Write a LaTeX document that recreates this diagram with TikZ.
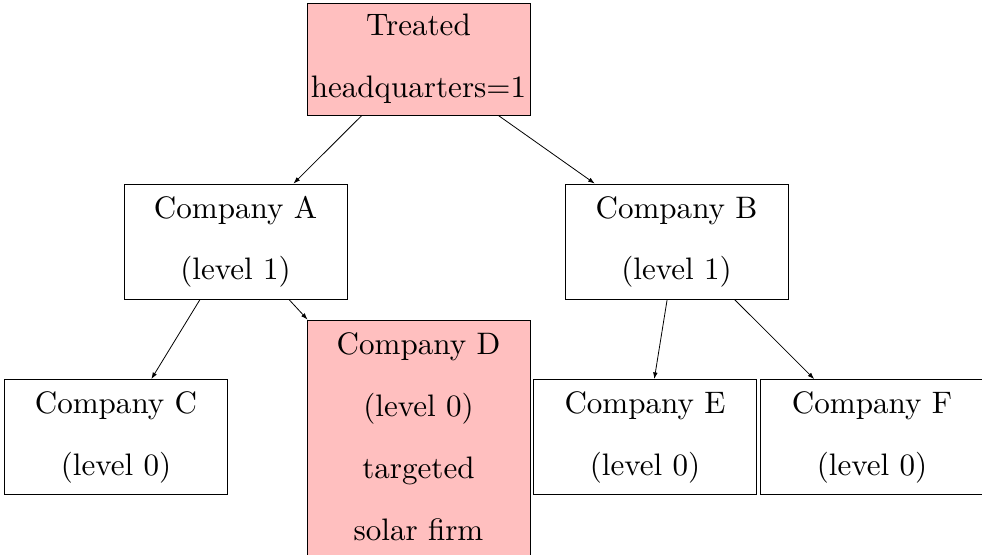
\documentclass[tikz,border=0pt]{standalone}
\usetikzlibrary{arrows.meta}
\newcommand\boxtext[1]{\scalebox{2.33}{\begin{tabular}{@{}c@{}}#1\end{tabular}}}
\newcommand\nl{\\[7.9pt]}
\begin{document}
\begin{tikzpicture}[x=0.75pt,y=-0.75pt,
  box/.style={draw, line width=0.6pt, minimum width=167.25pt, minimum height=86.25pt, inner sep=0pt,
    align=center, font=\fontsize{10}{12}\selectfont},
  hot/.style={box, fill=red!25},
  link/.style={-{Latex[length=5pt,width=3.5pt]}, line width=0.6pt}]
\useasboundingbox (0,0) rectangle (982,554);
\node[hot, minimum height=84pt] (top) at (418.5,59) {\boxtext{Treated\nl headquarters=1}};
\node[box] (A) at (235.5,241.5) {\boxtext{Company A\nl (level 1)}};
\node[box] (B) at (676.5,241.5) {\boxtext{Company B\nl (level 1)}};
\node[box] (C) at (116,437) {\boxtext{Company C\nl (level 0)}};
\node[hot, minimum height=180pt] (D) at (418.5,440) {\boxtext{Company D\nl (level 0)\nl targeted\nl solar firm}};
\node[box] (E) at (645,437) {\boxtext{Company E\nl (level 0)}};
\node[box] (F) at (872,437) {\boxtext{Company F\nl (level 0)}};
\draw[link] (top) -- (A);
\draw[link] (top) -- (B);
\draw[link] (A) -- (C);
\draw[link] (A) -- (D);
\draw[link] (B) -- (E);
\draw[link] (B) -- (F);
\end{tikzpicture}
\end{document}
